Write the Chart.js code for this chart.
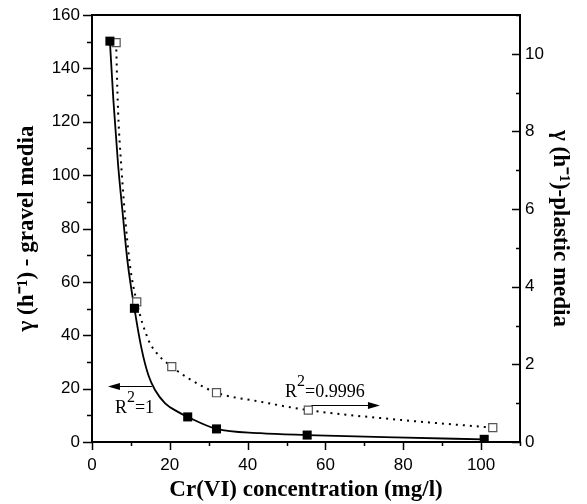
<!DOCTYPE html>
<html>
<head>
<meta charset="utf-8">
<script src="https://cdn.jsdelivr.net/npm/chart.js@4.4.1/dist/chart.umd.min.js"></script>
<style>
  html, body { margin: 0; padding: 0; background: #fff; }
  #wrap { width: 587px; height: 504px; position: relative; }
</style>
</head>
<body>
<div id="wrap"><canvas id="plot"></canvas></div>
<script>
"use strict";

// measured points (x = Cr(VI) mg/l)
const gravelX = [4.6, 10.9, 24.6, 32.0, 55.3, 100.8];
const gravelY = [150.2, 50.1, 9.4, 4.9, 2.6, 1.0];
const plasticX = [6.2, 11.5, 20.5, 32.0, 55.6, 103.0];
const plasticY = [10.29, 3.61, 1.94, 1.27, 0.82, 0.37];

// fitted curves
const gravelFitX = [4.6, 5.5, 6.7, 7.8, 9.1, 10.9, 12.8, 14.5, 16.2, 18.8, 22.2, 24.6, 32.0, 43.2, 55.3, 78.0, 100.8];
const gravelFitY = [150.2, 128, 104, 87, 68, 50.1, 34.5, 25, 19.5, 14.5, 11.2, 9.4, 4.9, 3.3, 2.6, 1.7, 1.0];
const plasticFitX = [6.2, 6.6, 7.6, 9.6, 11.5, 14.5, 16.7, 20.5, 24.8, 32.0, 43.2, 55.6, 79.2, 103.0];
const plasticFitY = [10.29, 8.8, 7.0, 4.68, 3.61, 2.63, 2.28, 1.94, 1.64, 1.27, 1.04, 0.82, 0.57, 0.37];

// tick labels
const xLabels = [0, 20, 40, 60, 80, 100];
const yLabels = [0, 20, 40, 60, 80, 100, 120, 140, 160];
const y2Labels = [0, 2, 4, 6, 8, 10];

const pts = (xs, ys) => xs.map((x, i) => ({ x: x, y: ys[i] }));

const tickFont = { family: "'Liberation Sans', Arial, sans-serif", size: 17 };
const titleFont = { family: "'Liberation Serif', 'Times New Roman', serif", size: 23, weight: 'bold' };

// R² notes: positions in data units of x / left axis
const notes = [
  { text: "=1", x: 5.9, y: 10.9, arrow: [15.4, 4.1, 20.8] },
  { text: "=0.9996", x: 49.6, y: 16.9, arrow: [56.4, 74.0, 13.7] }
];

// fixed axis boxes, no extra label padding
const fixBox = (w, h) => s => {
  if (w) s.width = w;
  if (h) s.height = h;
  s.paddingTop = 0; s.paddingBottom = 0;
  s.paddingLeft = 0; s.paddingRight = 0;
};

// minor/major ticks, top frame line and R² notes
const extras = {
  id: 'extras',
  afterDraw(chart) {
    const { ctx, chartArea: a, scales } = chart;
    ctx.save();
    ctx.strokeStyle = '#000';
    ctx.lineWidth = 1.5;
    ctx.beginPath();
    scales.x.ticks.forEach(t => {
      const px = Math.round(scales.x.getPixelForValue(t.value)) + 0.5;
      const len = t.value % 20 === 0 ? 8 : 4;
      ctx.moveTo(px, a.bottom); ctx.lineTo(px, a.bottom + len);
    });
    scales.y.ticks.forEach(t => {
      const py = Math.round(scales.y.getPixelForValue(t.value)) + 0.5;
      const len = t.value % 20 === 0 ? 9 : 5;
      ctx.moveTo(a.left, py); ctx.lineTo(a.left - len, py);
    });
    scales.y2.ticks.forEach(t => {
      const py = Math.round(scales.y2.getPixelForValue(t.value)) + 0.5;
      const len = t.value % 2 === 0 ? 8 : 4;
      ctx.moveTo(a.right, py); ctx.lineTo(a.right - len, py);
    });
    ctx.stroke();

    // top frame
    ctx.lineWidth = 2;
    ctx.beginPath();
    ctx.moveTo(a.left - 1, a.top); ctx.lineTo(a.right + 1, a.top);
    ctx.stroke();

    // R² notes with arrows
    ctx.fillStyle = '#000';
    ctx.textBaseline = 'alphabetic';
    ctx.textAlign = 'left';
    notes.forEach(n => {
      let px = scales.x.getPixelForValue(n.x);
      const py = scales.y.getPixelForValue(n.y);
      ctx.font = "18px 'Liberation Serif', serif";
      ctx.fillText('R', px, py);
      px += ctx.measureText('R').width;
      ctx.font = "16px 'Liberation Serif', serif";
      ctx.fillText('2', px, py - 11);
      px += ctx.measureText('2').width;
      ctx.font = "18px 'Liberation Serif', serif";
      ctx.fillText(n.text, px, py);

      const x1 = scales.x.getPixelForValue(n.arrow[0]);
      const x2 = scales.x.getPixelForValue(n.arrow[1]);
      const ay = Math.round(scales.y.getPixelForValue(n.arrow[2])) + 0.5;
      const dir = x2 > x1 ? 1 : -1;
      ctx.lineWidth = 1.2;
      ctx.beginPath();
      ctx.moveTo(x1, ay); ctx.lineTo(x2 - dir * 8, ay);
      ctx.stroke();
      ctx.beginPath();
      ctx.moveTo(x2, ay);
      ctx.lineTo(x2 - dir * 12, ay - 3.5);
      ctx.lineTo(x2 - dir * 12, ay + 3.5);
      ctx.closePath();
      ctx.fill();
    });
    ctx.restore();
  }
};

const chart = new Chart(document.getElementById('plot').getContext('2d'), {
  type: 'scatter',
  data: {
    datasets: [
      {
        data: pts(gravelX, gravelY), yAxisID: 'y',
        pointStyle: 'rect', pointRadius: 6.4,
        backgroundColor: '#000', borderColor: '#000', borderWidth: 0
      },
      {
        data: pts(plasticX, plasticY), yAxisID: 'y2',
        pointStyle: 'rect', pointRadius: 5.7,
        backgroundColor: '#fff', borderColor: '#555', borderWidth: 1.2
      },
      {
        data: pts(gravelFitX, gravelFitY), yAxisID: 'y',
        showLine: true, pointRadius: 0, borderColor: '#000', borderWidth: 1.8,
        cubicInterpolationMode: 'monotone'
      },
      {
        data: pts(plasticFitX, plasticFitY), yAxisID: 'y2',
        showLine: true, pointRadius: 0, borderColor: '#000', borderWidth: 2,
        borderDash: [2, 5], cubicInterpolationMode: 'monotone'
      }
    ]
  },
  options: {
    responsive: true,
    maintainAspectRatio: false,
    animation: false,
    layout: { padding: { top: 15, left: 0, right: 0, bottom: 0 } },
    plugins: { legend: { display: false }, tooltip: { enabled: false } },
    scales: {
      x: {
        type: 'linear', min: 0, max: 110,
        afterFit: fixBox(0, 62),
        grid: { display: true, drawOnChartArea: false, drawTicks: false },
        border: { display: true, color: '#000', width: 2 },
        ticks: {
          stepSize: 10, autoSkip: false, maxRotation: 0, padding: 13,
          color: '#000', font: tickFont,
          callback: v => xLabels.includes(v) ? String(v) : ''
        },
        title: {
          display: true, text: 'Cr(VI) concentration (mg/l)', color: '#000',
          font: titleFont, padding: { top: 0, bottom: 0 }
        }
      },
      y: {
        type: 'linear', position: 'left', min: 0, max: 160,
        afterFit: fixBox(92, 0),
        grid: { display: true, drawOnChartArea: false, drawTicks: false },
        border: { display: true, color: '#000', width: 2 },
        ticks: {
          stepSize: 10, autoSkip: false, padding: 12,
          color: '#000', font: tickFont,
          callback: v => yLabels.includes(v) ? String(v) : ''
        },
        title: {
          display: true, text: 'γ (h⁻¹) - gravel media', color: '#000',
          font: titleFont, padding: { top: 13, bottom: 0 }
        }
      },
      y2: {
        type: 'linear', position: 'right', min: 0, max: 11,
        afterFit: fixBox(67, 0),
        grid: { display: true, drawOnChartArea: false, drawTicks: false },
        border: { display: true, color: '#000', width: 2 },
        ticks: {
          stepSize: 1, autoSkip: false, padding: 5,
          color: '#000', font: tickFont,
          callback: v => y2Labels.includes(v) ? String(v) : ''
        },
        title: {
          display: true, text: 'γ (h⁻¹)-plastic media', color: '#000',
          font: titleFont, padding: { top: 13, bottom: 0 }
        }
      }
    }
  },
  plugins: [extras]
});
</script>
</body>
</html>
